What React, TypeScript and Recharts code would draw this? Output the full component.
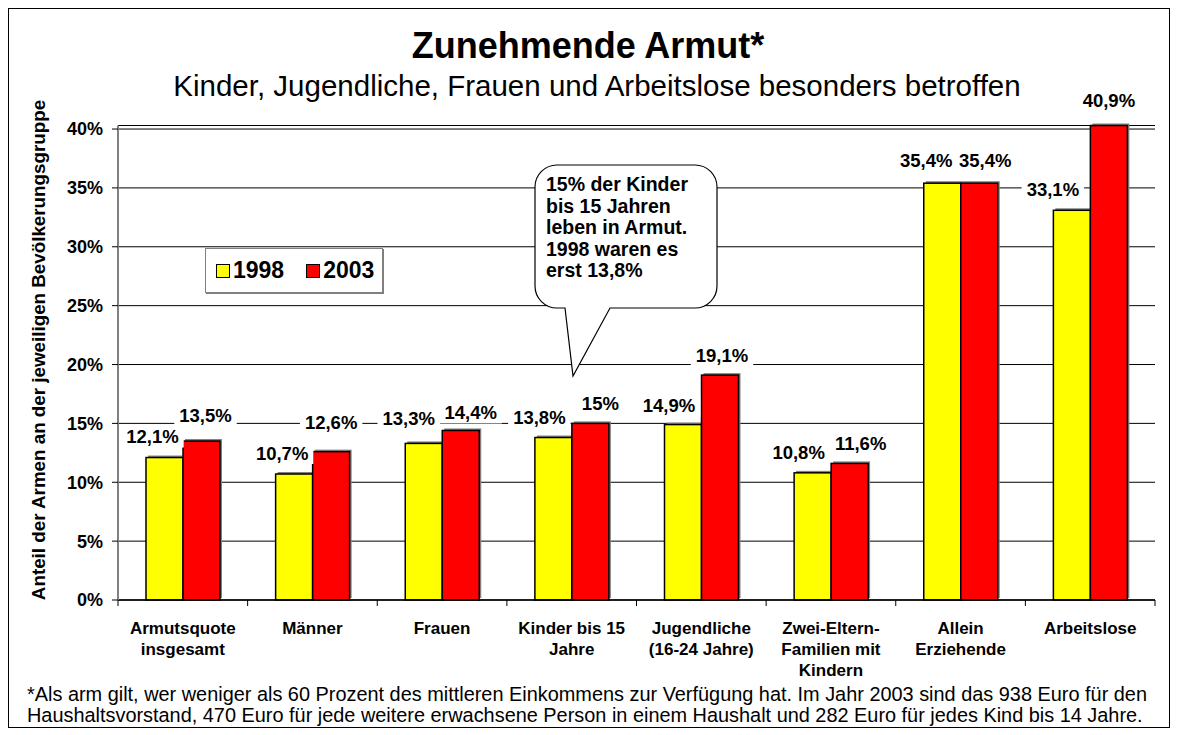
import { BarChart, Bar, XAxis, YAxis, CartesianGrid, LabelList, Legend } from "recharts";

const categories = [
  "Armutsquote\ninsgesamt",
  "Männer",
  "Frauen",
  "Kinder bis 15\nJahre",
  "Jugendliche\n(16-24 Jahre)",
  "Zwei-Eltern-\nFamilien mit\nKindern",
  "Allein\nErziehende",
  "Arbeitslose",
];
const values1998 = [12.1, 10.7, 13.3, 13.8, 14.9, 10.8, 35.4, 33.1];
const values2003 = [13.5, 12.6, 14.4, 15, 19.1, 11.6, 35.4, 40.9];
const yTicks = [0, 5, 10, 15, 20, 25, 30, 35, 40];
const seriesNames = ["1998", "2003"];
const seriesColors = ["#FFFF00", "#FF0000"];

// axis stops a hair above 40%; taller bars are cut off there like in the original
const Y_MAX = 40.3;

const rows = categories.map((name, i) => ({ name, y1998: values1998[i], y2003: values2003[i] }));

// page layout (chart svg covers the whole page)
const W = 1178;
const H = 735;
const PLOT_LEFT = 118;
const PLOT_RIGHT = 1155;
const AXIS_Y = 600;
const BAND = (PLOT_RIGHT - PLOT_LEFT) / categories.length;
const FONT = "'Liberation Sans', Arial, sans-serif";

// hand-placed label nudges (dx, dy from bar top), like the dragged labels in the original
const shift1998 = [[-12, -21], [-12, -21], [-15, -25], [-14, -20], [-14, -19], [-14, -20], [-16, -23], [-19, -21]];
const shift2003 = [[4, -26], [0, -29], [10, -18], [10, -20], [2, -20], [11, -20], [6, -23], [0, -25]];

const pct = (v: number) => `${String(v).replace(".", ",")}%`;

const charW: Record<string, number> = { ",": 0.278, "%": 0.889 };
const textWidth = (s: string, size: number) =>
  s.split("").reduce((sum, c) => sum + (charW[c] ?? 0.556), 0) * size;

function makeLabel(values: number[], shifts: number[][]) {
  return (props: any) => {
    const vb = props.viewBox ?? props;
    const x = Number(vb.x ?? props.x);
    const y = Number(vb.y ?? props.y);
    const width = Number(vb.width ?? props.width);
    const i = props.index;
    const [dx, dy] = shifts[i];
    const cx = x + width / 2 + dx;
    const cy = y + dy;
    const t = pct(values[i]);
    const w = textWidth(t, 18.5) + 10;
    return (
      <g>
        <rect x={cx - w / 2} y={cy - 11} width={w} height={22} fill="#fff" />
        <text x={cx} y={cy + 6.5} textAnchor="middle" fontSize={18.5} fontWeight={700} fill="#000" fontFamily={FONT}>
          {t}
        </text>
      </g>
    );
  };
}

const ShadowBar = (props: any) => {
  const { x, y, width, height, fill } = props;
  if (!height || height <= 0) return <g />;
  return (
    <g>
      <rect x={x + 2} y={y - 2} width={width} height={height} fill="#808080" />
      <rect x={x} y={y} width={width} height={height} fill={fill} stroke="#000" strokeWidth={1.5} />
    </g>
  );
};

const CategoryTick = (props: any) => {
  const { x, payload, index } = props;
  const lines = String(payload.value).split("\n");
  return (
    <g>
      <line x1={x - BAND / 2} x2={x - BAND / 2} y1={AXIS_Y} y2={AXIS_Y + 6} stroke="#000" />
      {index === categories.length - 1 && (
        <line x1={x + BAND / 2} x2={x + BAND / 2} y1={AXIS_Y} y2={AXIS_Y + 6} stroke="#000" />
      )}
      <text x={x} y={AXIS_Y + 34} textAnchor="middle" fontSize={17} fontWeight={700} fill="#000" fontFamily={FONT}>
        {lines.map((l, i) => (
          <tspan key={i} x={x} dy={i === 0 ? 0 : 21}>
            {l}
          </tspan>
        ))}
      </text>
    </g>
  );
};

const LegendBox = () => (
  <div
    style={{
      boxSizing: "border-box",
      width: 178,
      height: 45,
      border: "1px solid #808080",
      boxShadow: "1px 1px 0 #808080",
      background: "#fff",
      display: "flex",
      alignItems: "center",
      paddingLeft: 10,
      fontFamily: FONT,
      fontWeight: 700,
      fontSize: 23,
      color: "#000",
    }}
  >
    {seriesNames.map((n, i) => (
      <div key={n} style={{ display: "flex", alignItems: "center", marginRight: i === 0 ? 22 : 0 }}>
        <span
          style={{
            display: "inline-block",
            width: 12,
            height: 12,
            border: "1px solid #000",
            background: seriesColors[i],
            marginRight: 3,
          }}
        />
        {n}
      </div>
    ))}
  </div>
);

const footnote = [
  "*Als arm gilt, wer weniger als 60 Prozent des mittleren Einkommens zur Verfügung hat. Im Jahr 2003 sind das 938 Euro für den",
  "Haushaltsvorstand, 470 Euro für jede weitere erwachsene Person in einem Haushalt und 282 Euro für jedes Kind bis 14 Jahre.",
];
const callout = ["15% der Kinder", "bis 15 Jahren", "leben in Armut.", "1998 waren es", "erst 13,8%"];

export default function App() {
  return (
    <div style={{ position: "relative", width: 1162, height: 720, fontFamily: FONT }}>
      <div style={{ position: "absolute", left: -8, top: -8 }}>
        <BarChart
          width={W}
          height={H}
          data={rows}
          margin={{ top: 125.5, right: W - PLOT_RIGHT, bottom: 45, left: PLOT_LEFT - 60 }}
          barGap={0}
          barSize={37}
        >
          <CartesianGrid vertical={false} stroke="#000" strokeWidth={1} />
          <XAxis
            dataKey="name"
            interval={0}
            height={90}
            tickLine={false}
            tickSize={0}
            tickMargin={0}
            axisLine={{ stroke: "#000", strokeWidth: 1.5 }}
            tick={<CategoryTick />}
          />
          <YAxis
            type="number"
            domain={[0, Y_MAX]}
            ticks={yTicks}
            width={60}
            tickSize={6}
            tickMargin={9}
            tickFormatter={(v) => `${v}%`}
            axisLine={{ stroke: "#808080", strokeWidth: 2 }}
            tickLine={{ stroke: "#000" }}
            tick={{ fill: "#000", fontSize: 18, fontWeight: 700, fontFamily: FONT }}
          />
          <Legend
            layout="horizontal"
            verticalAlign="middle"
            align="center"
            wrapperStyle={{ left: 205, top: 248, width: 178, height: 45 }}
            content={() => <LegendBox />}
          />
          <Bar
            dataKey={(d: any) => Math.min(d.y1998, Y_MAX)}
            name={seriesNames[0]}
            fill={seriesColors[0]}
            shape={ShadowBar}
            isAnimationActive={false}
          >
            <LabelList content={makeLabel(values1998, shift1998)} />
          </Bar>
          <Bar
            dataKey={(d: any) => Math.min(d.y2003, Y_MAX)}
            name={seriesNames[1]}
            fill={seriesColors[1]}
            shape={ShadowBar}
            isAnimationActive={false}
          >
            <LabelList content={makeLabel(values2003, shift2003)} />
          </Bar>
        </BarChart>
      </div>

      <svg
        width={W}
        height={H}
        style={{ position: "absolute", left: -8, top: -8, pointerEvents: "none" }}
        fontFamily={FONT}
      >
        <rect x={8.5} y={8.5} width={1161} height={719} fill="none" stroke="#000" strokeWidth={1} />
        <text x={588} y={58} textAnchor="middle" fontSize={36} fontWeight={700} fill="#000">
          Zunehmende Armut*
        </text>
        <text x={597} y={96} textAnchor="middle" fontSize={29.5} fill="#000">
          Kinder, Jugendliche, Frauen und Arbeitslose besonders betroffen
        </text>
        <text transform="translate(45,350) rotate(-90)" textAnchor="middle" fontSize={18.8} fontWeight={700} fill="#000">
          Anteil der Armen an der jeweiligen Bevölkerungsgruppe
        </text>
        {footnote.map((l, i) => (
          <text key={i} x={27} y={701 + i * 21} fontSize={19.9} fill="#000">
            {l}
          </text>
        ))}
        <path
          d="M557,165 H695 A22,22 0 0 1 717,187 V286 A22,22 0 0 1 695,308 H610 L573,376 L565,308 H557 A22,22 0 0 1 535,286 V187 A22,22 0 0 1 557,165 Z"
          fill="#fff"
          stroke="#000"
          strokeWidth={1.2}
        />
        {callout.map((l, i) => (
          <text key={i} x={546} y={191 + i * 21.6} fontSize={19.5} fontWeight={700} fill="#000">
            {l}
          </text>
        ))}
      </svg>
    </div>
  );
}
